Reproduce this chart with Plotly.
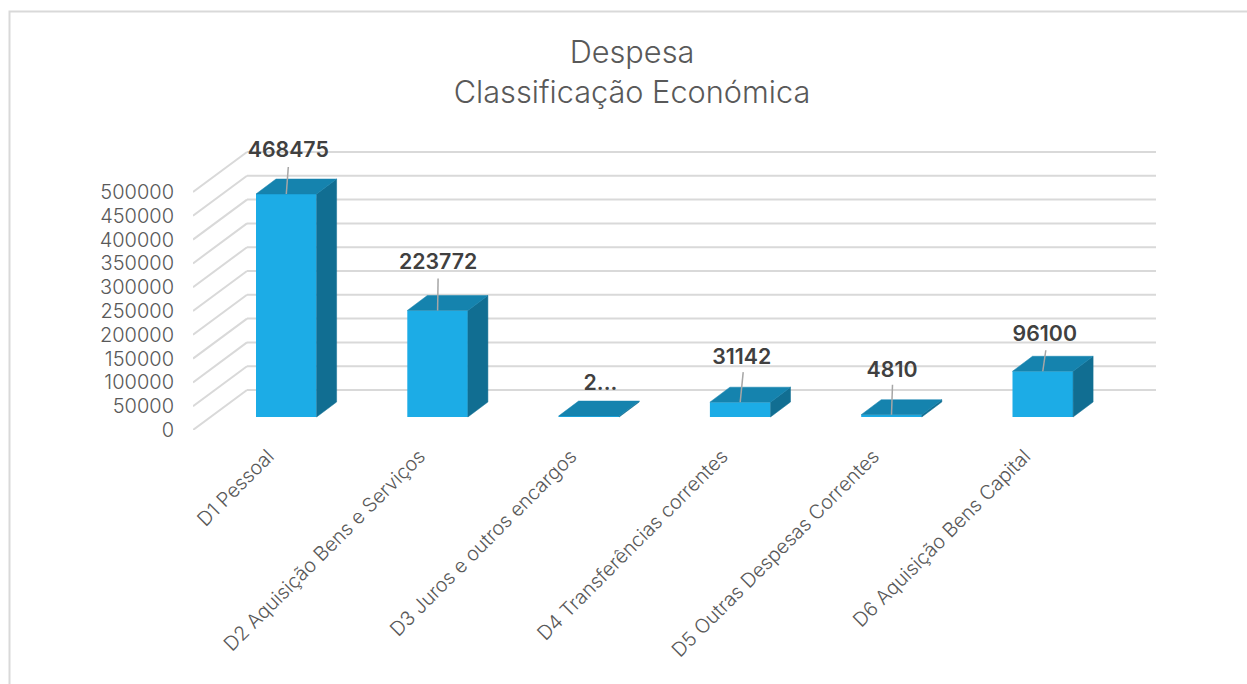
import plotly.graph_objects as go

categories = ["D1 Pessoal", "D2 Aquisição Bens e Serviços", "D3 Juros e outros encargos",
              "D4 Transferências correntes", "D5 Outras Despesas Correntes", "D6 Aquisição Bens Capital"]
values = [468475, 223772, 2000, 31142, 4810, 96100]
labels = ["468475", "223772", "2...", "31142", "4810", "96100"]
y_ticks = list(range(0, 500001, 50000))
y_tick_labels = [str(v) for v in y_ticks]

W, H = 1247, 684
L, R, T, B = 193, 1156, 130, 430
PX_PER_CAT = 151.3
PX_PER_VAL = 238 / 500000
X0 = 286.3
x_of = lambda px: (px - X0) / PX_PER_CAT
v_of = lambda py: (B - py) / PX_PER_VAL
DX_WALL = 54 / PX_PER_CAT
DV_WALL = 40 / PX_PER_VAL
BAR_W = 60.6 / PX_PER_CAT
BAR_DX = 20 / PX_PER_CAT
BAR_DV = 15 / PX_PER_VAL
BASE = 13 / PX_PER_VAL
LABEL_GAP = [42, 47, 31, 43, 43, 36]
LEAD_DX = [2, 0.5, 0, 3, 1, 3]
LABEL_DX = [2, 0.5, 11.5, 1.5, 0.5, 2]
LEAD_TOP = [27, 32, 0, 30, 30, 21]

GRID = "#D9D9D9"
FRONT, TOP, SIDE = "#1CACE6", "#1583AE", "#116E92"
FONT = "Inter"

fig = go.Figure()
xmin, xmax = x_of(L), x_of(R)
xwall = xmin + DX_WALL
shapes = [dict(type="rect", xref="paper", yref="paper", layer="below",
               x0=(9.5 - L) / (R - L), x1=(1300 - L) / (R - L),
               y0=(B - 760) / (B - T), y1=(B - 11.5) / (B - T),
               line=dict(color=GRID, width=2), fillcolor="rgba(0,0,0,0)")]
# wall and side grid lines
for v in y_ticks:
    for xa, ya, xb, yb in [(xmin, v, xwall, v + DV_WALL), (xwall, v + DV_WALL, xmax, v + DV_WALL)]:
        shapes.append(dict(type="line", xref="x", yref="y", layer="below", x0=xa, y0=ya, x1=xb, y1=yb,
                           line=dict(color=GRID, width=2)))

# 3D bar faces
for i, v in enumerate(values):
    x1, x2 = i - BAR_W / 2, i + BAR_W / 2
    fig.add_trace(go.Scatter(x=[x2, x2 + BAR_DX, x2 + BAR_DX, x2, x2], y=[BASE, BASE + BAR_DV, BASE + v + BAR_DV, BASE + v, BASE],
                             mode="lines", fill="toself", fillcolor=SIDE, line=dict(color=SIDE, width=0.5),
                             hoverinfo="skip", showlegend=False))
    fig.add_trace(go.Scatter(x=[x1, x1 + BAR_DX, x2 + BAR_DX, x2, x1], y=[BASE + v, BASE + v + BAR_DV, BASE + v + BAR_DV, BASE + v, BASE + v],
                             mode="lines", fill="toself", fillcolor=TOP, line=dict(color=TOP, width=0.5),
                             hoverinfo="skip", showlegend=False))
fig.add_trace(go.Bar(x=list(range(6)), y=values, base=BASE, width=BAR_W, marker=dict(color=FRONT, line=dict(width=0)),
                     hoverinfo="skip", showlegend=False))

# leader lines and labels
for i, v in enumerate(values):
    if LEAD_TOP[i]:
        fig.add_trace(go.Scatter(x=[i, i + LEAD_DX[i] / PX_PER_CAT], y=[BASE + v, BASE + v + LEAD_TOP[i] / PX_PER_VAL],
                                 mode="lines", line=dict(color="#A6A6A6", width=1.5), hoverinfo="skip", showlegend=False))
fig.add_trace(go.Scatter(
    x=[i + LABEL_DX[i] / PX_PER_CAT for i in range(6)],
    y=[BASE + v + LABEL_GAP[i] / PX_PER_VAL for i, v in enumerate(values)],
    mode="text", text=labels, textposition="middle center", cliponaxis=False,
    textfont=dict(family=FONT, size=21.3, color="#404040", weight=600),
    hoverinfo="skip", showlegend=False))

fig.update_layout(
    width=W, height=H, autosize=False, template=None,
    paper_bgcolor="white", plot_bgcolor="rgba(0,0,0,0)", showlegend=False,
    margin=dict(l=L, r=W - R, t=T, b=H - B),
    font=dict(family=FONT, color="#595959"),
    barmode="overlay",
    title=dict(text="Despesa<br>Classificação Económica", x=632 / W, xanchor="center", y=1 - 63 / H, yanchor="middle",
               font=dict(family=FONT, size=30.7, color="#595959", weight=300)),
    xaxis=dict(range=[xmin, xmax], tickmode="array", tickvals=list(range(6)), ticktext=categories,
               tickangle=-45, tickfont=dict(size=19.7, color="#595959", weight=300), showgrid=False, zeroline=False,
               showline=False, ticks="", ticklabelstandoff=10, ticklabelshift=-18, automargin=False),
    yaxis=dict(range=[0, v_of(T)], tickmode="array", tickvals=y_ticks, ticktext=y_tick_labels,
               tickfont=dict(size=20, color="#595959", weight=300), showgrid=False, zeroline=False, showline=False,
               ticks="", ticklabelstandoff=18, automargin=False),
    shapes=shapes,
)
fig.write_html("out.html", config=dict(displayModeBar=False),
               post_script="document.body.style.margin='0';document.body.style.overflow='hidden';")
